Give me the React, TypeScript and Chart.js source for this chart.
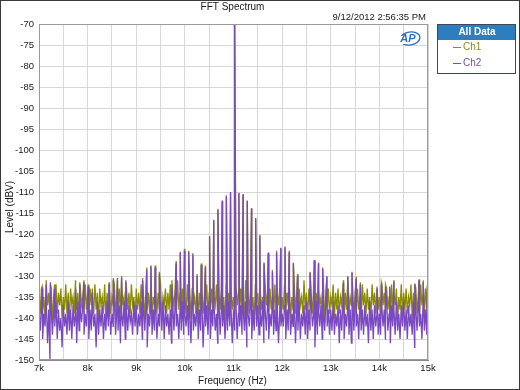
import React, { useEffect, useRef } from 'react';
import { Chart, registerables } from 'chart.js';

Chart.register(...registerables);

const FONT = '"Liberation Sans", Arial, sans-serif';

// Noise floor grid: one value every 25 Hz from 7 kHz to 15 kHz
const NOISE_START_HZ = 7000;
const NOISE_STEP_HZ = 25;

const ch1Noise: number[] = [
  -134, -139, -133, -138, -135, -140, -132, -137, -134, -139, -133, -141, -135, -138, -132, -139, -134, -137, -133, -140,
  -135, -138, -132, -139, -134, -141, -133, -137, -135, -139, -131, -138, -134, -140, -133, -137, -135, -139, -132, -138,
  -134, -140, -133, -137, -135, -139, -132, -138, -134, -141, -133, -137, -135, -139, -132, -140, -134, -138, -133, -139,
  -135, -137, -132, -140, -134, -138, -133, -139, -131, -137, -135, -140, -133, -138, -134, -139, -132, -137, -135, -141,
  -133, -138, -134, -139, -132, -137, -135, -140, -133, -138, -134, -139, -132, -141, -135, -137, -133, -139, -134, -138,
  -132, -140, -135, -137, -133, -139, -134, -138, -132, -140, -135, -137, -133, -139, -131, -138, -134, -140, -133, -137,
  -135, -139, -132, -138, -134, -140, -133, -137, -135, -139, -132, -141, -134, -138, -133, -139, -135, -137, -132, -140,
  -134, -138, -133, -139, -135, -137, -132, -140, -134, -138, -133, -139, -135, -141, -132, -137, -134, -139, -133, -138,
  -135, -140, -132, -137, -134, -139, -133, -138, -135, -140, -131, -137, -134, -139, -133, -138, -135, -141, -132, -137,
  -134, -139, -133, -138, -135, -140, -132, -137, -134, -139, -133, -138, -135, -140, -132, -139, -134, -137, -133, -141,
  -135, -138, -132, -139, -134, -137, -133, -140, -135, -138, -132, -139, -134, -141, -133, -137, -135, -139, -131, -138,
  -134, -140, -133, -137, -135, -139, -132, -138, -134, -140, -133, -137, -135, -139, -132, -141, -134, -138, -133, -139,
  -135, -137, -132, -140, -134, -138, -133, -139, -135, -137, -132, -140, -134, -138, -131, -139, -135, -137, -133, -140,
  -134, -139, -133, -138, -135, -141, -132, -137, -134, -139, -133, -138, -135, -140, -132, -137, -134, -139, -133, -138,
  -135, -140, -132, -137, -134, -139, -133, -138, -135, -140, -132, -139, -134, -137, -133, -141, -135, -138, -132, -139,
  -134, -138, -133, -139, -135, -137, -132, -140, -134, -138, -133, -139, -135, -141, -132, -137, -134, -139, -133, -138,
  -134,
];

const ch2Noise: number[] = [
  -138, -143, -137, -145, -139, -142, -136, -146, -138, -150, -137, -144, -139, -142, -136, -145, -138, -143, -140, -147,
  -137, -142, -139, -144, -136, -143, -138, -145, -137, -142, -139, -146, -136, -143, -138, -141, -137, -144, -139, -142,
  -136, -145, -138, -143, -137, -142, -139, -147, -136, -144, -138, -142, -137, -145, -139, -143, -136, -142, -138, -144,
  -139, -142, -136, -144, -138, -143, -137, -146, -139, -142, -136, -145, -138, -143, -137, -141, -139, -144, -136, -142,
  -137, -144, -139, -142, -136, -145, -138, -143, -137, -147, -139, -142, -136, -144, -138, -143, -137, -145, -139, -142,
  -138, -143, -136, -145, -137, -142, -139, -144, -138, -146, -136, -143, -137, -142, -139, -145, -138, -143, -136, -144,
  -139, -142, -137, -144, -138, -146, -136, -143, -139, -142, -137, -145, -138, -143, -136, -147, -139, -142, -137, -144,
  -136, -145, -138, -142, -137, -143, -139, -146, -136, -144, -138, -142, -137, -145, -139, -143, -136, -142, -138, -146,
  -138, -143, -136, -145, -139, -142, -137, -144, -138, -143, -136, -147, -139, -142, -137, -145, -138, -143, -136, -142,
  -137, -144, -139, -142, -136, -146, -138, -143, -137, -145, -139, -142, -136, -144, -138, -143, -137, -146, -139, -142,
  -139, -142, -137, -145, -138, -143, -136, -144, -139, -142, -137, -146, -138, -143, -136, -145, -139, -142, -137, -144,
  -136, -145, -138, -143, -137, -142, -139, -147, -136, -144, -138, -142, -137, -145, -139, -143, -136, -142, -138, -144,
  -138, -143, -136, -144, -139, -142, -137, -146, -138, -143, -136, -145, -139, -142, -137, -144, -138, -146, -136, -143,
  -137, -142, -139, -145, -136, -143, -138, -144, -137, -142, -139, -146, -136, -143, -138, -145, -137, -142, -139, -144,
  -139, -144, -137, -142, -138, -145, -136, -143, -139, -146, -137, -142, -138, -144, -136, -143, -139, -145, -137, -142,
  -136, -143, -138, -145, -137, -142, -139, -144, -136, -147, -138, -143, -137, -142, -139, -145, -136, -143, -138, -144,
  -140,
];

// Discrete tones (fundamental and sidebands)
const spikeFreqs: number[] = [
  7063, 7149, 7235, 7321, 7752, 7838, 7924, 8010, 8096, 8441, 8527, 8613, 8699, 8786,
  9130, 9216, 9302, 9389, 9475, 9733, 9819, 9905, 9991, 10078, 10164, 10250, 10336, 10422,
  10508, 10594, 10680, 10767, 10853, 10939, 11025, 11111, 11197, 11283, 11370, 11456, 11542, 11628,
  11714, 11800, 11886, 11972, 12059, 12145, 12231, 12317, 12575, 12661, 12748, 12834, 12920,
  13264, 13351, 13437, 13523, 13609, 13953, 14040, 14126, 14212, 14298, 14729, 14815, 14901, 14987,
];

const spikeCh1: number[] = [
  -132.5, -131, -132, -132, -132.5, -131.5, -131, -132, -133, -131.5, -130.5, -131, -130, -131.5,
  -130.5, -128, -127.8, -127.5, -129, -131, -126.5, -124.5, -123.5, -124, -125, -129.5, -127, -127.5,
  -120.8, -116.8, -114, -112.3, -110.8, -110.2, -70, -110.2, -110.8, -112.2, -113.8, -116.5, -120.2, -126.8,
  -124.8, -128.5, -124, -123.5, -123.2, -124, -126.8, -129.5, -129, -126.5, -126.8, -128, -130,
  -131, -130, -129.3, -130.2, -131.5, -132.5, -131.5, -132, -132.8, -131, -131.8, -130.8, -131, -132,
];

const spikeCh2: number[] = [
  -133, -132, -131.5, -133, -133, -132, -131.5, -132.5, -134, -132, -131, -130.5, -130.5, -131,
  -131, -128.5, -127.5, -128, -129.5, -132, -127, -124.2, -124, -124.2, -124.6, -130, -127.4, -128,
  -120.5, -116.6, -114.3, -112, -111, -110, -70, -110.3, -110.5, -112, -114, -116.2, -120.5, -127,
  -124.4, -129, -124.4, -123.3, -123, -124.4, -127, -130, -129.2, -126.2, -127, -128.2, -130.2,
  -131.6, -130.2, -129, -130.6, -132, -133, -132, -132.5, -132.5, -131.3, -132, -131, -131.5, -132.5,
];

const xTickValues: number[] = [7000, 8000, 9000, 10000, 11000, 12000, 13000, 14000, 15000];
const xTickLabels: string[] = ['7k', '8k', '9k', '10k', '11k', '12k', '13k', '14k', '15k'];

const seriesLabels: string[] = ['Ch1', 'Ch2'];
const seriesColors: string[] = ['#8c8c00', '#7a48c2'];
const legendTextColors: string[] = ['#8a8a10', '#6a56a6'];

const chartTitle = 'FFT Spectrum';
const timestamp = '9/12/2012 2:56:35 PM';
const xTitle = 'Frequency (Hz)';
const yTitle = 'Level (dBV)';
const legendHeader = 'All Data';

function buildSeries(noise: number[], spikes: number[]) {
  const pts = noise.map((y, i) => ({ x: NOISE_START_HZ + i * NOISE_STEP_HZ, y }));
  spikeFreqs.forEach((f, i) => pts.push({ x: f, y: spikes[i] }));
  pts.sort((a, b) => a.x - b.x);
  return pts;
}

const decorPlugin = {
  id: 'decor',
  beforeDraw(chart: any) {
    const { ctx, width, height } = chart;
    ctx.save();
    ctx.fillStyle = '#ffffff';
    ctx.fillRect(0, 0, width, height);
    ctx.restore();
  },
  afterDraw(chart: any) {
    const { ctx, chartArea } = chart;
    const cx = (chartArea.left + chartArea.right) / 2;
    ctx.save();
    // plot frame
    ctx.strokeStyle = '#9a9a9a';
    ctx.lineWidth = 1;
    ctx.strokeRect(Math.round(chartArea.left) + 0.5, Math.round(chartArea.top) + 0.5,
      Math.round(chartArea.right - chartArea.left) - 1, Math.round(chartArea.bottom - chartArea.top) - 1);

    // outer frame
    ctx.strokeStyle = '#3a3a3a';
    ctx.strokeRect(0.5, 0.5, chart.width - 1, chart.height - 1);

    // titles
    ctx.fillStyle = '#1a1a1a';
    ctx.textBaseline = 'middle';
    ctx.font = `10px ${FONT}`;
    ctx.textAlign = 'center';
    ctx.fillText(chartTitle, cx - 1, 7);
    ctx.font = `9.5px ${FONT}`;
    ctx.textAlign = 'right';
    ctx.fillText(timestamp, chartArea.right - 2, 17.5);

    // axis titles
    ctx.font = `10px ${FONT}`;
    ctx.textAlign = 'center';
    ctx.fillText(xTitle, cx - 1, 381);
    ctx.save();
    ctx.translate(10, 207);
    ctx.rotate(-Math.PI / 2);
    ctx.fillText(yTitle, 0, 0);
    ctx.restore();

    // AP logo
    ctx.save();
    ctx.strokeStyle = '#2b6fc0';
    ctx.lineWidth = 1.3;
    ctx.beginPath();
    ctx.ellipse(410, 38.5, 10, 6.5, -0.15, 0, Math.PI * 2);
    ctx.stroke();
    ctx.fillStyle = '#ffffff';
    ctx.fillRect(398, 36, 9, 8);
    ctx.fillStyle = '#2b6fc0';
    ctx.font = `italic bold 11px ${FONT}`;
    ctx.textAlign = 'center';
    ctx.fillText('AP', 408, 39);
    ctx.restore();

    // legend box
    const lx = 437, ly = 24, lw = 78, lh = 49;
    ctx.fillStyle = '#ffffff';
    ctx.fillRect(lx, ly, lw, lh);
    ctx.fillStyle = '#2e7dbd';
    ctx.fillRect(lx, ly, lw, 16);
    ctx.strokeStyle = '#3b4a5a';
    ctx.lineWidth = 1;
    ctx.strokeRect(lx + 0.5, ly + 0.5, lw, lh);
    ctx.fillStyle = '#ffffff';
    ctx.font = `bold 10px ${FONT}`;
    ctx.textAlign = 'center';
    ctx.fillText(legendHeader, lx + lw / 2 + 1, ly + 8.5);
    ctx.font = `10px ${FONT}`;
    ctx.textAlign = 'left';
    seriesLabels.forEach((lab, i) => {
      const yy = 47.5 + i * 16;
      ctx.strokeStyle = seriesColors[i];
      ctx.beginPath();
      ctx.moveTo(453, yy);
      ctx.lineTo(461, yy);
      ctx.stroke();
      ctx.fillStyle = legendTextColors[i];
      ctx.fillText(lab, 463, yy);
    });
    ctx.restore();
  },
};

export default function App() {
  const canvasRef = useRef<HTMLCanvasElement | null>(null);

  useEffect(() => {
    document.body.style.margin = '0';
    const canvas = canvasRef.current;
    if (!canvas) return;
    const tickFont = { family: FONT, size: 9.5 };
    const chart = new Chart(canvas, {
      type: 'line',
      data: {
        datasets: [
          {
            label: seriesLabels[0],
            data: buildSeries(ch1Noise, spikeCh1),
            borderColor: seriesColors[0],
            borderWidth: 1.3,
            pointRadius: 0,
            tension: 0,
            order: 2,
          },
          {
            label: seriesLabels[1],
            data: buildSeries(ch2Noise, spikeCh2),
            borderColor: seriesColors[1],
            borderWidth: 1.3,
            pointRadius: 0,
            tension: 0,
            order: 1,
          },
        ],
      },
      options: {
        animation: false,
        responsive: false,
        events: [],
        parsing: false as any,
        layout: { padding: { left: 0, right: 92, top: 24, bottom: 0 } },
        plugins: {
          legend: { display: false },
          title: { display: false },
          tooltip: { enabled: false },
        },
        scales: {
          x: {
            type: 'linear',
            min: 7000,
            max: 15000,
            ticks: {
              stepSize: 500,
              autoSkip: false,
              maxRotation: 0,
              padding: 3,
              color: '#1a1a1a',
              font: tickFont,
              callback: (v: any) => {
                const idx = xTickValues.indexOf(Number(v));
                return idx >= 0 ? xTickLabels[idx] : '';
              },
            },
            grid: { color: '#d6d6d6', drawTicks: false },
            border: { color: '#8a8a8a' },
            afterFit: (s: any) => { s.height = 30; },
          },
          y: {
            min: -150,
            max: -70,
            ticks: {
              stepSize: 5,
              padding: 5,
              color: '#1a1a1a',
              font: tickFont,
            },
            grid: { color: '#d6d6d6', drawTicks: false },
            border: { color: '#8a8a8a' },
            afterFit: (s: any) => { s.width = 39; },
          },
        },
      } as any,
      plugins: [decorPlugin],
    });
    return () => chart.destroy();
  }, []);

  return (
    <div style={{ position: 'fixed', left: 0, top: 0, width: 520, height: 390, background: '#fff' }}>
      <canvas ref={canvasRef} width={520} height={390} style={{ display: 'block' }} />
    </div>
  );
}
